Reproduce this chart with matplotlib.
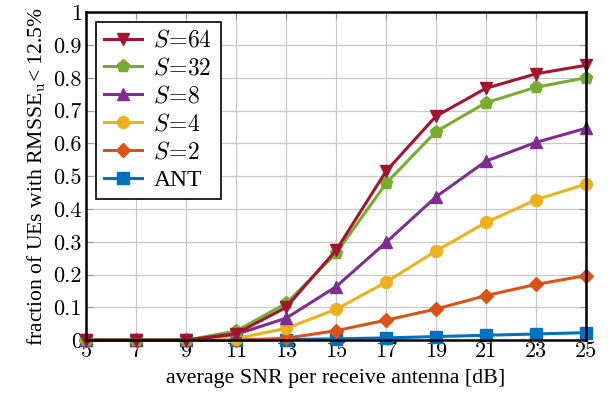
import matplotlib
matplotlib.use("Agg")
import matplotlib.pyplot as plt

plt.rcParams['font.family'] = 'serif'
plt.rcParams['font.serif'] = ['Liberation Serif', 'DejaVu Serif']
plt.rcParams['mathtext.fontset'] = 'cm'

# Dataset
# --------
snr = [5, 7, 9, 11, 13, 15, 17, 19, 21, 23, 25]

s64 = [0, 0, 0, 0.02, 0.100, 0.274, 0.515, 0.683, 0.768, 0.812, 0.838]
s32 = [0, 0, 0, 0.028, 0.112, 0.265, 0.478, 0.636, 0.724, 0.771, 0.800]
s8 = [0, 0, 0, 0.018, 0.067, 0.163, 0.298, 0.437, 0.546, 0.603, 0.646]
s4 = [0, 0, 0, 0.005, 0.036, 0.094, 0.177, 0.272, 0.359, 0.428, 0.476]
s2 = [0, 0, 0, 0.0, 0.006, 0.029, 0.061, 0.095, 0.136, 0.170, 0.197]
ant = [0, 0, 0, 0.0, 0.002, 0.004, 0.007, 0.011, 0.015, 0.019, 0.023]

series = [
    (ant, 'ANT', '#0072BD', 's'),
    (s2, r'$S\!=\!2$', '#D95319', 'D'),
    (s4, r'$S\!=\!4$', '#EDB120', 'o'),
    (s8, r'$S\!=\!8$', '#7E2F8E', '^'),
    (s32, r'$S\!=\!32$', '#77AC30', 'p'),
    (s64, r'$S\!=\!64$', '#A2142F', 'v'),
]

# Draw Plot
# ---------
fig = plt.figure(figsize=(6.11, 4.05), dpi=100)
ax = fig.add_axes([0.141, 0.160, 0.818, 0.810])

for y, lab, c, m in series:
    ms = 7 if m == 'D' else 8.5
    if m == 'p':
        ms = 9.5
    ax.plot(snr, y, color=c, lw=2.2, marker=m, ms=ms, label=lab, clip_on=False, zorder=3)

ax.set_xlim(5, 25)
ax.set_ylim(0, 1)
ax.set_xticks(snr)
ax.set_yticks([i / 10 for i in range(11)])
ax.set_yticklabels(['0', '0.1', '0.2', '0.3', '0.4', '0.5', '0.6', '0.7', '0.8', '0.9', '1'])
for lbl in ax.get_xticklabels() + ax.get_yticklabels():
    lbl.set_fontfamily('cmr10')
    lbl.set_fontsize(16)
ax.tick_params(axis='x', pad=1)
ax.tick_params(axis='y', pad=3)
ax.tick_params(direction='in', top=True, right=True, length=5, width=0.8, color='#999999')
ax.grid(color='#c8c8c8', lw=0.9)
for sp in ax.spines.values():
    sp.set_linewidth(1.8)
    sp.set_zorder(4)

ax.set_xlabel('average SNR per receive antenna [dB]', fontsize=15.8, labelpad=6)
ax.set_ylabel(r'fraction of UEs with RMSSE$_\mathrm{u}$< 12.5%', fontsize=15.6, labelpad=4)

h, l = ax.get_legend_handles_labels()
leg = ax.legend(h[::-1], l[::-1], loc='upper left', fontsize=17, fancybox=False,
                edgecolor='black', framealpha=1, borderaxespad=0.4, handlelength=1.6,
                labelspacing=0.25, borderpad=0.35, handletextpad=0.5)
leg.get_frame().set_linewidth(1.2)
leg.set_zorder(5)

fig.savefig('out.png', dpi=100)
